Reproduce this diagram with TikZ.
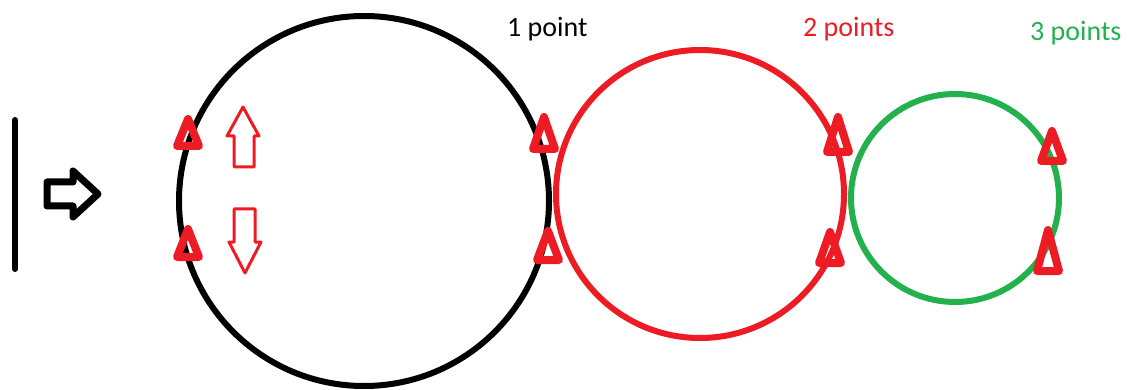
\documentclass[tikz,border=0pt]{standalone}
\usepackage{fontspec}
\setmainfont{Carlito}
\definecolor{paintred}{RGB}{237,28,36}
\definecolor{paintgreen}{RGB}{34,177,76}
\tikzset{
    ring/.style={line width=6pt},
    marker/.style={paintred, line width=8pt, line join=round},
    tag/.style={anchor=base west, inner sep=0pt, font=\fontsize{28}{32}\selectfont}
}
\begin{document}
\begin{tikzpicture}[x=1pt, y=-1pt]
    \useasboundingbox (0,0) rectangle (1132,390);

    % Wall and push
    \draw[line width=6pt, line cap=round] (15,120) -- (15,269);
    \draw[line width=7pt, line join=round] (47,182) -- (73,182) -- (73,171) -- (98,194) -- (73,217) -- (73,206) -- (47,206) -- cycle;

    % Circles
    \draw[ring, black] (364,201) circle (185);
    \draw[ring, paintred] (700,194) circle (144);
    \draw[ring, paintgreen] (955,198) circle (104);

    % Up and down
    \draw[paintred, line width=3pt, line join=round] (234,167) -- (234,136) -- (227,136) -- (243,107) -- (259,136) -- (254,136) -- (254,167) -- cycle;
    \draw[paintred, line width=3pt, line join=round] (234,209) -- (234,242) -- (229,242) -- (245,273) -- (261,242) -- (255,242) -- (255,209) -- cycle;

    % Contact points
    \foreach \x/\t/\b in {188/115/150, 188/225/261, 544/113/153, 548/227/264, 838/113/156, 830/228/267, 1052/127/165, 1048/226/275}
        \draw[marker] (\x-11,\b-4) -- (\x,\t+4) -- (\x+11,\b-4) -- cycle;

    % Labels
    \node[tag, black] (one) at (507,37) {1 point};
    \node[tag, paintred] (two) at (803,37) {2 points};
    \node[tag, paintgreen] (three) at (1030,41) {3 points};
\end{tikzpicture}
\end{document}
